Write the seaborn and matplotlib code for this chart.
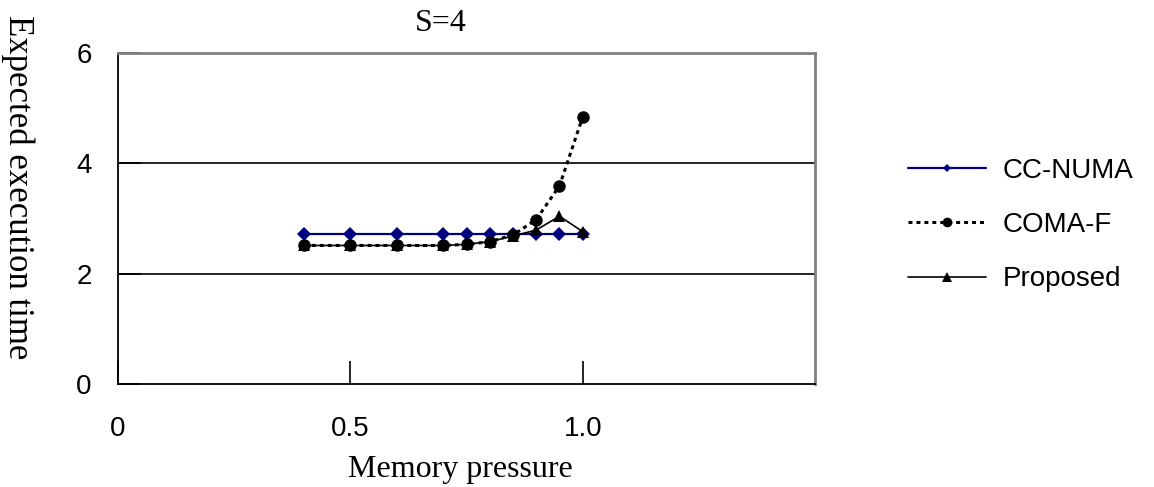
import matplotlib

matplotlib.use("Agg")
import matplotlib.pyplot as plt
import pandas as pd
import seaborn as sns

# values
memory_pressure = [0.4, 0.5, 0.6, 0.7, 0.75, 0.8, 0.85, 0.9, 0.95, 1.0]
cc_numa = [2.72, 2.72, 2.72, 2.72, 2.72, 2.72, 2.72, 2.72, 2.72, 2.72]
coma_f = [2.51, 2.51, 2.51, 2.51, 2.53, 2.58, 2.70, 2.98, 3.59, 4.84]
proposed = [2.51, 2.51, 2.51, 2.51, 2.53, 2.58, 2.68, 2.79, 3.04, 2.76]

series_names = ["CC-NUMA", "COMA-F", "Proposed"]
x_ticks = [0, 0.5, 1.0]
x_tick_labels = ["0", "0.5", "1.0"]
y_ticks = [0, 2, 4, 6]

SANS = ["Liberation Sans", "DejaVu Sans"]
SERIF = ["Liberation Serif", "DejaVu Serif"]

sns.set_theme(style="white")
plt.rcParams["font.family"] = SANS
plt.rcParams["text.color"] = "black"
plt.rcParams["xtick.labelcolor"] = "black"
plt.rcParams["ytick.labelcolor"] = "black"

df = pd.DataFrame(
  {
    "x": memory_pressure * 3,
    "y": cc_numa + coma_f + proposed,
    "series": sum([[n] * len(memory_pressure) for n in series_names], []),
  }
)

styles = {
  "CC-NUMA": dict(color="#000080", linestyle="-", marker="D", markersize=7, linewidth=1.6),
  "COMA-F": dict(color="black", linestyle=(0, (1.3, 1.3)), marker="o", markersize=9, linewidth=2.2),
  "Proposed": dict(color="black", linestyle="-", marker="^", markersize=9, linewidth=1.2),
}

fig = plt.figure(figsize=(11.54, 4.87), dpi=100)
ax = fig.add_axes([0.1023, 0.2115, 0.604, 0.68])

for name in series_names:
  sns.lineplot(
    data=df[df["series"] == name],
    x="x",
    y="y",
    ax=ax,
    label=name,
    markeredgewidth=0,
    **styles[name],
  )

ax.set_xlim(0, 1.5)
ax.set_ylim(0, 6)
ax.set_xticks(x_ticks)
ax.set_xticklabels(x_tick_labels)
ax.set_yticks(y_ticks)
for yv in y_ticks[1:-1]:
  ax.axhline(yv, color="black", linewidth=1.2, zorder=0)

ax.tick_params(axis="both", direction="in", length=16.5, width=1.2, color="black",
               labelsize=20, left=True, bottom=True)
ax.tick_params(axis="y", pad=19)
ax.tick_params(axis="x", pad=23)
ax.set_xlabel("")
ax.set_ylabel("")

for side in ["left", "bottom"]:
  ax.spines[side].set_color("black")
  ax.spines[side].set_linewidth(1.3)
for side in ["top", "right"]:
  ax.spines[side].set_color("#808080")
  ax.spines[side].set_linewidth(2)

fig.text(0.382, 0.951, "S=4", ha="center", va="center", fontsize=23, family=SERIF)
fig.text(0.399, 0.035, "Memory pressure", ha="center", va="center", fontsize=23, family=SERIF)
fig.text(0.0156, 0.616, "Expected execution time", ha="center", va="center",
         rotation=-90, fontsize=25, family=SERIF)

leg = ax.legend(
  loc="center left",
  bbox_to_anchor=(0.787, 0.538),
  bbox_transform=fig.transFigure,
  frameon=False,
  fontsize=20,
  handlelength=2.8,
  handletextpad=0.6,
  labelspacing=1.02,
  borderpad=0,
  borderaxespad=0,
)
for line, ms in zip(leg.get_lines(), [4, 7, 7]):
  line.set_markersize(ms)

fig.savefig("out.png", dpi=100)
